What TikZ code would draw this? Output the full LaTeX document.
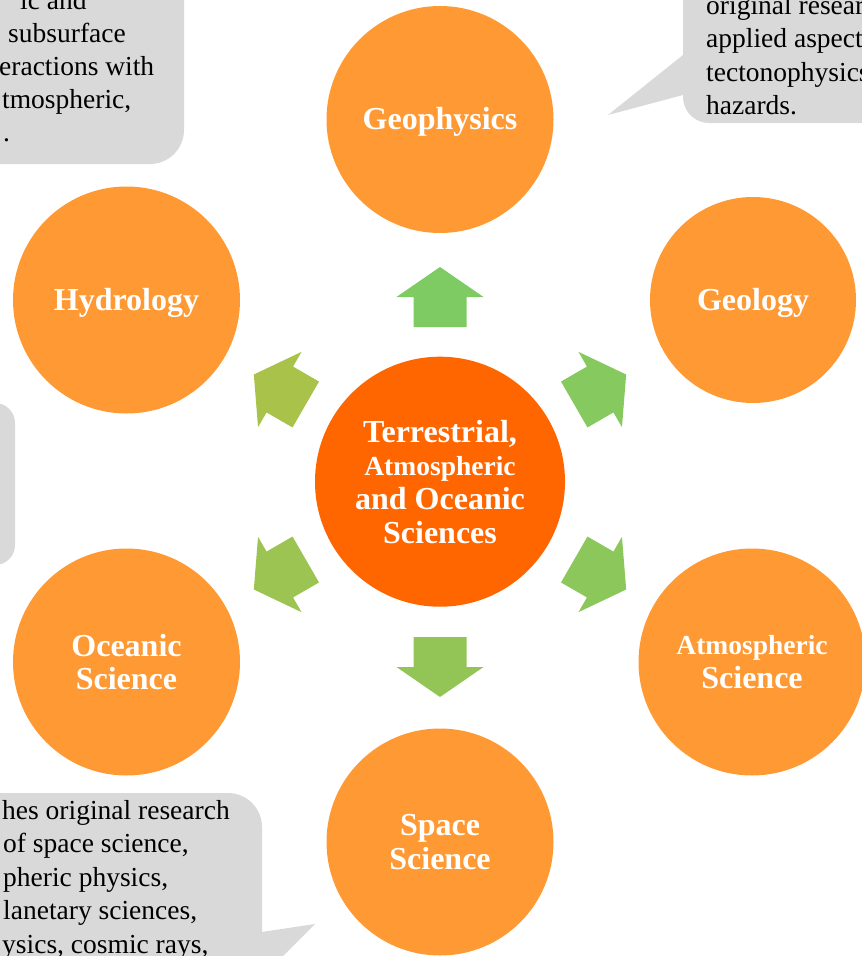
\documentclass[tikz,border=0pt]{standalone}
\usepackage{fontspec}
\setmainfont{Liberation Serif}
\definecolor{orng}{HTML}{FF9933}
\definecolor{corng}{HTML}{FF6600}
\definecolor{callgray}{HTML}{D9D9D9}
\definecolor{arA}{HTML}{7ECB63}
\definecolor{arB}{HTML}{85C95F}
\definecolor{arC}{HTML}{8CC75B}
\definecolor{arD}{HTML}{93C556}
\definecolor{arE}{HTML}{9BC452}
\definecolor{arF}{HTML}{A8C24A}
\begin{document}
\begin{tikzpicture}[x=1bp,y=-1bp,
  bubble/.style={circle, fill=orng, draw=none, inner sep=0pt, text=white, align=center,
    font=\fontsize{32bp}{33.7bp}\selectfont\bfseries},
  oneline/.style={text height=22bp, text depth=1.5bp},
  hub/.style={bubble, fill=corng},
  callout/.style={fill=callgray, draw=none},
  note/.style={anchor=base west, inner sep=0pt, text=black,
    font=\fontsize{27.5bp}{33.5bp}\selectfont},
  blockarrow/.style={draw=none}
]
\useasboundingbox (0,0) rectangle (862,956);
\clip (0,0) rectangle (862,956);

% callouts
\fill[callout, rounded corners=34bp] (-60,-60) rectangle (184,164);
\fill[callout, rounded corners=26bp] (683,-60) rectangle (940,123);
\fill[callout] (692,55) -- (683,55) -- (608,115) -- (683,95) -- (692,95) -- cycle;
\fill[callout, rounded corners=20bp] (-60,403) rectangle (15,565);
\fill[callout, rounded corners=34bp] (-60,793) rectangle (262,1040);
\fill[callout] (255,933) -- (315,924) -- (255,984) -- cycle;

% callout texts
\node[note] (tl1) at (20,9.5) {ic and};
\node[note] (tl2) at (8,42.7) {subsurface};
\node[note] (tl3) at (-1,75.7) {eractions with};
\node[note] (tl4) at (2,108.7) {tmospheric,};
\node[note] (tl5) at (3,141.7) {.};

\node[note] (tr1) at (706,14) {original resear};
\node[note] (tr2) at (706,47.5) {applied aspect};
\node[note] (tr3) at (706,81) {tectonophysics};
\node[note] (tr4) at (706,114.5) {hazards.};

\node[note] (bl1) at (2,819) {hes original research};
\node[note] (bl2) at (3,852.5) {of space science,};
\node[note] (bl3) at (3,886) {pheric physics,};
\node[note] (bl4) at (3,919.5) {lanetary sciences,};
\node[note] (bl5) at (2,953) {ysics, cosmic rays,};

% circles
\node[bubble, oneline, minimum size=227bp] (geoph) at (440,119.5) {Geophysics};
\node[bubble, oneline, minimum size=206bp] (geol) at (753,300) {Geology};
\node[bubble, oneline, minimum size=227bp] (hydro) at (126.5,300) {Hydrology};
\node[bubble, minimum size=227bp] (ocean) at (126.5,662) {Oceanic\\Science};
\node[bubble, minimum size=227bp] (atmo) at (752,662) {{\fontsize{27.5bp}{33.7bp}\selectfont Atmospheric}\\Science};
\node[bubble, minimum size=227bp] (space) at (440,842) {Space\\Science};
\node[hub, minimum size=250bp] (hub) at (440,481.7) {Terrestrial,\\{\fontsize{27.5bp}{33.7bp}\selectfont Atmospheric}\\and Oceanic\\Sciences};

% block arrows
\foreach \cx/\cy/\ang/\col in {440/297/90/arA, 600.2/389.5/30/arB, 600.2/574.5/-30/arC,
                               440/667/-90/arD, 279.8/574.5/-150/arE, 279.8/389.5/150/arF}
  \fill[blockarrow, fill=\col, shift={(\cx,\cy)}, rotate=\ang]
    (-30,-26.5) -- (0,-26.5) -- (0,-43.5) -- (30,0) -- (0,43.5) -- (0,26.5) -- (-30,26.5) -- cycle;
\end{tikzpicture}
\end{document}
